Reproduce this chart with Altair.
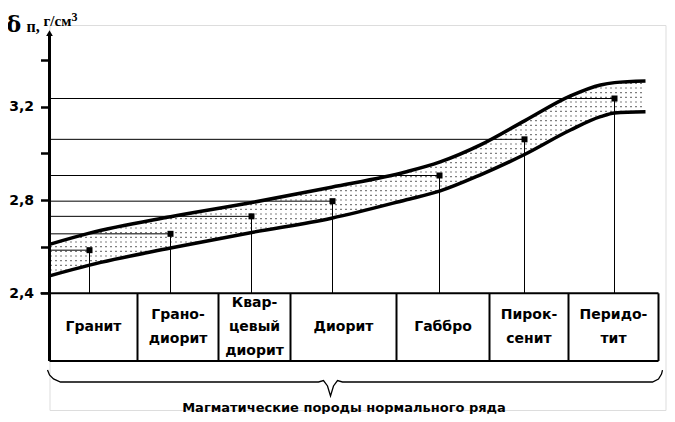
import altair as alt
import pandas as pd

# ---------------- data ----------------
ROCKS = ["Гранит", "Грано-\nдиорит", "Квар-\nцевый\nдиорит", "Диорит",
         "Габбро", "Пирок-\nсенит", "Перидо-\nтит"]
COL_EDGES = [0, 88, 169, 241, 347, 440, 519, 609]          # column borders along the series
MEAN_POS = [40, 121, 202, 283, 390, 475, 565]              # position of each rock's mean
MEAN_DENS = [2.585, 2.655, 2.73, 2.795, 2.905, 3.06, 3.235]  # mean density, g/cm3

CURVE_POS = [0, 40, 121, 201, 282, 356, 390, 431, 475, 521, 551, 565, 596]
UPPER = [2.61, 2.658, 2.728, 2.788, 2.855, 2.92, 2.962, 3.036, 3.139, 3.246, 3.293, 3.303, 3.31]
LOWER = [2.475, 2.521, 2.594, 2.66, 2.722, 2.80, 2.838, 2.908, 2.995, 3.10, 3.157, 3.173, 3.178]

Y_TICKS = [2.4, 2.6, 2.8, 3.0, 3.2, 3.4]
Y_TICK_LABELS = ["2,4", "", "2,8", "", "3,2", ""]

BASE = 2.4          # table top / axis origin
TABLE_BOTTOM = 2.11
AXIS_TOP = 3.515

BRACE_POS = [-2, 0, 4, 11, 269, 274, 278, 281, 284, 288, 293, 603, 609, 612, 613]
BRACE_VAL = [2.071, 2.05, 2.033, 2.02, 2.02, 2.026, 2.003, 1.96, 2.003, 2.026, 2.02, 2.02, 2.033, 2.054, 2.071]
CAPTION = "Магматические породы нормального ряда"

# ---------------- scales / helpers ----------------
XS = alt.Scale(domain=[0, 616], nice=False, zero=False)
YS = alt.Scale(domain=[1.9, 3.55], nice=False, zero=False)
PX_PER_UNIT = 385 / 1.65
LINE_H = 24

label_expr = " : ".join(
    f"abs(datum.value - {v}) < 0.001 ? '{l}'" for v, l in zip(Y_TICKS, Y_TICK_LABELS)
) + " : ''"
YAX = alt.Axis(values=Y_TICKS, labelExpr=label_expr, domain=False, grid=False,
               tickSize=9, tickWidth=2.5, tickColor="black", labelPadding=7,
               labelFont="DejaVu Sans", labelFontWeight="bold", labelFontSize=14,
               labelColor="black", title=None)


def X(f):
    return alt.X(f, type="quantitative", scale=XS, axis=None)


def Y(f):
    return alt.Y(f, type="quantitative", scale=YS, axis=YAX)


curve = pd.DataFrame({"pos": CURVE_POS, "upper": UPPER, "lower": LOWER})
curve["top"] = 3.4
curve["base"] = BASE
means = pd.DataFrame({"pos": MEAN_POS, "dens": MEAN_DENS})
means["zero"] = 0
means["base"] = BASE
edges = pd.DataFrame({"pos": COL_EDGES})
edges["top"] = BASE
edges["bot"] = TABLE_BOTTOM
centers = [(a + b) / 2 for a, b in zip(COL_EDGES[:-1], COL_EDGES[1:])]
mid = (BASE + TABLE_BOTTOM) / 2
first_line = [mid + (r.count("\n")) * (LINE_H / 2) / PX_PER_UNIT for r in ROCKS]
rocks = pd.DataFrame({"rock": ROCKS, "pos": centers, "v": first_line})
brace = pd.DataFrame({"pos": BRACE_POS, "v": BRACE_VAL, "i": range(len(BRACE_POS))})

# dotted fill of the band (texture rows), masked outside the band
dots = alt.Chart(alt.sequence(2.46, 3.33, 0.02, as_="v")).transform_calculate(
    x0="1", x1=str(max(CURVE_POS) - 2)
).mark_rule(strokeDash=[1, 4], color="black", strokeWidth=1.2).encode(
    y=Y("v"), x=X("x0"), x2=alt.X2("x1"))

cbase = alt.Chart(curve)
mask_top = cbase.mark_area(color="white", interpolate="monotone", opacity=1).encode(
    x=X("pos"), y=Y("upper"), y2=alt.Y2("top"))
mask_bot = cbase.mark_area(color="white", interpolate="monotone", opacity=1).encode(
    x=X("pos"), y=Y("base"), y2=alt.Y2("lower"))
line_up = cbase.mark_line(color="black", strokeWidth=3.5, interpolate="monotone").encode(
    x=X("pos"), y=Y("upper"))
line_lo = cbase.mark_line(color="black", strokeWidth=3.5, interpolate="monotone").encode(
    x=X("pos"), y=Y("lower"))

mbase = alt.Chart(means)
hrules = mbase.mark_rule(color="black", strokeWidth=1).encode(
    x=X("zero"), x2=alt.X2("pos"), y=Y("dens"))
vrules = mbase.mark_rule(color="black", strokeWidth=1).encode(
    x=X("pos"), y=Y("dens"), y2=alt.Y2("base"))
pts = mbase.mark_square(color="black", size=36, opacity=1).encode(
    x=X("pos"), y=Y("dens"))

axis_df = pd.DataFrame({"x": [0], "y0": [TABLE_BOTTOM], "y1": [AXIS_TOP]})
axis_line = alt.Chart(axis_df).mark_rule(color="black", strokeWidth=3).encode(
    x=X("x"), y=Y("y0"), y2=alt.Y2("y1"))
arrow = alt.Chart(axis_df).mark_point(shape="triangle-up", filled=True, color="black",
                                      size=45, opacity=1).encode(x=X("x"), y=Y("y1"))

tab_df = pd.DataFrame({"x0": [-9, 0], "x1": [COL_EDGES[-1], COL_EDGES[-1]],
                       "v": [BASE, TABLE_BOTTOM]})
tab_h = alt.Chart(tab_df).mark_rule(color="black", strokeWidth=2).encode(
    x=X("x0"), x2=alt.X2("x1"), y=Y("v"))
tab_v = alt.Chart(edges).mark_rule(color="black", strokeWidth=2).encode(
    x=X("pos"), y=Y("top"), y2=alt.Y2("bot"))
rock_txt = alt.Chart(rocks).mark_text(
    lineBreak="\n", lineHeight=LINE_H, align="center", baseline="middle",
    font="DejaVu Sans", fontWeight="bold", fontSize=14, color="black"
).encode(x=X("pos"), y=Y("v"), text="rock:N")

brace_line = alt.Chart(brace).mark_line(color="black", strokeWidth=1.3).encode(
    x=X("pos"), y=Y("v"), order="i:Q")
cap_df = pd.DataFrame({"pos": [294.5], "v": [1.908], "t": [CAPTION]})
caption = alt.Chart(cap_df).mark_text(
    font="DejaVu Sans", fontWeight="bold", fontSize=13, color="black",
    align="center", baseline="middle").encode(x=X("pos"), y=Y("v"), text="t:N")

# y-axis title: δп, г/см³
def title_part(txt, pos, v, size, font="Liberation Serif"):
    return alt.Chart(pd.DataFrame({"pos": [pos], "v": [v], "t": [txt]})).mark_text(
        font=font, fontWeight="bold", fontSize=size, color="black",
        align="left", baseline="alphabetic").encode(x=X("pos"), y=Y("v"), text="t:N")


t1 = title_part("δ", -43, 3.522, 22, font="DejaVu Serif")
t2 = title_part("п,", -23, 3.518, 16)
t3 = title_part("г/см", -6, 3.546, 15)
t4 = title_part("3", 22, 3.567, 12)

chart = alt.layer(
    dots, mask_top, mask_bot, hrules, vrules, line_up, line_lo, pts,
    tab_h, tab_v, axis_line, arrow, rock_txt, brace_line, caption, t1, t2, t3, t4
).properties(
    width=616, height=385,
    autosize=alt.AutoSizeParams(type="none"),
    padding={"left": 41.5, "top": 17, "right": 1.5, "bottom": 4},
).configure_view(stroke=None).configure(background="white")

chart.save("out.html", embed_options={"renderer": "svg", "actions": False})
